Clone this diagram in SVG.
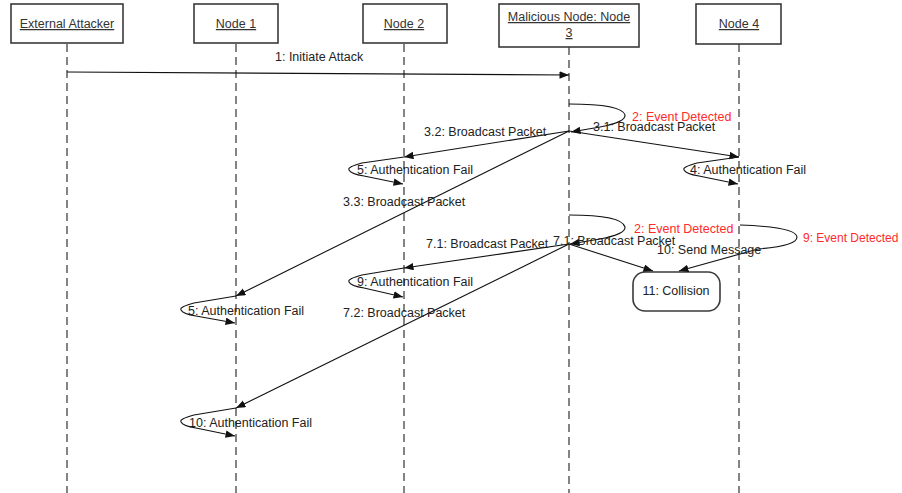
<svg xmlns="http://www.w3.org/2000/svg" width="902" height="493" viewBox="0 0 902 493">
<style>
text{font-family:"Liberation Sans",Arial,sans-serif;font-size:12.5px;fill:#222}
.hd{text-decoration:underline;fill:#333}
.red{fill:#ff2b2b}
.box{fill:#fff;stroke:#3a3a3a;stroke-width:1.6}
.life{stroke:#333;stroke-width:1.2;stroke-dasharray:8,5;fill:none}
.msg{stroke:#111;stroke-width:1.1;fill:none;marker-end:url(#ah)}
</style>
<defs>
<marker id="ah" markerUnits="userSpaceOnUse" markerWidth="11" markerHeight="8" refX="9.5" refY="3.75" orient="auto">
<path d="M0,0 L9.5,3.75 L0,7.5 z" fill="#111"/>
</marker>
</defs>
<rect width="902" height="493" fill="#fff"/>
<g id="lifelines">
<line class="life" x1="67" y1="44" x2="67" y2="493"/>
<line class="life" x1="236" y1="44" x2="236" y2="493"/>
<line class="life" x1="404" y1="44" x2="404" y2="493"/>
<line class="life" x1="569" y1="47" x2="569" y2="493"/>
<line class="life" x1="739" y1="44" x2="739" y2="493"/>
</g>
<g id="node-attacker">
<rect class="box" x="11" y="4" width="112" height="39"/>
<text class="hd" x="67" y="28" text-anchor="middle">External Attacker</text>
</g>
<g id="node-1">
<rect class="box" x="194" y="4" width="84" height="39"/>
<text class="hd" x="236" y="28" text-anchor="middle">Node 1</text>
</g>
<g id="node-2">
<rect class="box" x="363" y="4" width="84" height="39"/>
<text class="hd" x="404" y="28" text-anchor="middle">Node 2</text>
</g>
<g id="node-3">
<rect class="box" x="499" y="4" width="140" height="43"/>
<text class="hd" x="569" y="21" text-anchor="middle">Malicious Node: Node</text>
<text class="hd" x="569" y="37" text-anchor="middle">3</text>
</g>
<g id="node-4">
<rect class="box" x="696" y="4" width="85" height="40"/>
<text class="hd" x="739" y="28" text-anchor="middle">Node 4</text>
</g>
<g id="node-collision">
<rect class="box" x="633" y="272" width="87" height="39" rx="12" ry="12" stroke-width="1.2"/>
<text x="676" y="295" text-anchor="middle">11: Collision</text>
</g>
<g id="connectors">
<path class="msg" d="M67,72 L569,75"/>
<path class="msg" d="M569,104 Q622,104 625,115 Q626,122 600,127 L571,132"/>
<path class="msg" d="M569,131 L739,157"/>
<path class="msg" d="M569,131 L404,157"/>
<path class="msg" d="M569,131 L236,296"/>
<path class="msg" d="M404,157 L362,163 Q347,167 349,170 Q351,174 364,176 L403,184"/>
<path class="msg" d="M739,157 L697,163 Q682,167 684,170 Q686,174 699,176 L738,184"/>
<path class="msg" d="M569,215 Q622,215 625,227 Q626,234 600,239 L570,244"/>
<path class="msg" d="M569,244 L404,268"/>
<path class="msg" d="M569,244 L653,271"/>
<path class="msg" d="M569,244 L236,408"/>
<path class="msg" d="M404,268 L362,275 Q347,279 349,282 Q351,286 364,288 L403,297"/>
<path class="msg" d="M740,225 Q796,227 797,237 Q797,246 758,249 L679,271"/>
<path class="msg" d="M236,296 L194,303 Q179,307 181,310 Q183,314 196,316 L235,323"/>
<path class="msg" d="M236,408 L194,415 Q179,419 181,422 Q183,426 196,428 L235,436"/>
</g>
<g id="labels">
<text x="275" y="61">1: Initiate Attack</text>
<text class="red" x="632" y="121">2: Event Detected</text>
<text x="593" y="131">3.1: Broadcast Packet</text>
<text x="424" y="136">3.2: Broadcast Packet</text>
<text x="357" y="174">5: Authentication Fail</text>
<text x="690" y="174">4: Authentication Fail</text>
<text x="343" y="206">3.3: Broadcast Packet</text>
<text class="red" x="634" y="233">2: Event Detected</text>
<text x="426" y="248">7.1: Broadcast Packet</text>
<text x="553" y="245">7.1: Broadcast Packet</text>
<text x="657" y="254">10: Send Message</text>
<text class="red" x="803" y="242" style="font-size:12px">9: Event Detected</text>
<text x="357" y="286">9: Authentication Fail</text>
<text x="343" y="317">7.2: Broadcast Packet</text>
<text x="188" y="315">5: Authentication Fail</text>
<text x="189" y="427">10: Authentication Fail</text>
</g>
</svg>
